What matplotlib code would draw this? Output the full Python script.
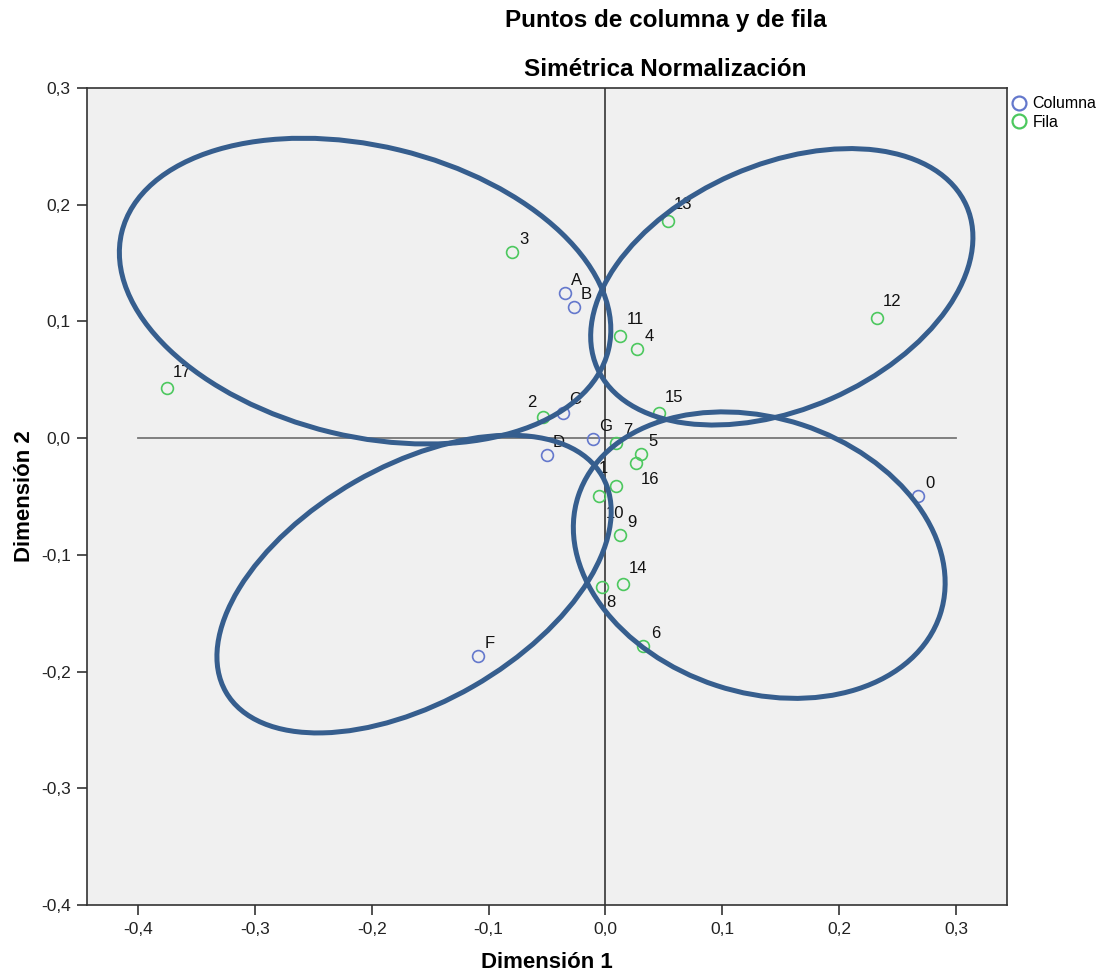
import matplotlib
matplotlib.use("Agg")
import matplotlib.pyplot as plt
from matplotlib.patches import Ellipse
from matplotlib.lines import Line2D
from matplotlib.ticker import FuncFormatter

plt.rcParams['font.family'] = ['Liberation Sans', 'DejaVu Sans']

# Column points (Dimensión 1, Dimensión 2)
col_labels = ['A', 'B', 'C', 'D', 'G', 'F', '0']
col_x = [-0.0346, -0.0266, -0.0360, -0.0502, -0.0104, -0.1093, 0.2672]
col_y = [0.1243, 0.1121, 0.0218, -0.0147, -0.0010, -0.1867, -0.0496]

# Row points
row_labels = ['3', '17', '13', '12', '11', '4', '2', '15', '7', '5',
              '16', '1', '10', '9', '14', '8', '6']
row_x = [-0.0799, -0.3754, 0.0538, 0.2322, 0.0128, 0.0270, -0.0531, 0.0461,
         0.0091, 0.0305, 0.0265, 0.0091, -0.0052, 0.0128, 0.0148, -0.0027,
         0.0324]
row_y = [0.1595, 0.0427, 0.1863, 0.1032, 0.0877, 0.0763, 0.0183, 0.0212,
         -0.0045, -0.0139, -0.0216, -0.0410, -0.0496, -0.0830, -0.1250,
         -0.1278, -0.1781]

# Highlighted groups: centre x, centre y, width, height, angle (deg)
grp_cx = [-0.2057, 0.1509, 0.1316, -0.1638]
grp_cy = [0.1260, 0.1297, -0.1002, -0.1250]
grp_w = [0.4285, 0.3452, 0.3259, 0.3714]
grp_h = [0.2488, 0.2096, 0.2351, 0.2024]
grp_ang = [-13.6, 23.7, -18.2, 29.9]

xticks = [-0.4, -0.3, -0.2, -0.1, 0.0, 0.1, 0.2, 0.3]
yticks = [-0.4, -0.3, -0.2, -0.1, 0.0, 0.1, 0.2, 0.3]

# label offsets in pixels (dx right, dy up); default upper right
label_offsets = {'2': (-12, 14), '8': (9, -15), '10': (16, -17),
                 '16': (14, -16), '1': (-13, 18)}

BLUE = '#6478cc'
GREEN = '#4cc85e'
ELL = '#365e8e'

fig = plt.figure(figsize=(11.04, 9.76), dpi=100)
ax = fig.add_axes([0.0791, 0.0727, 0.9119 - 0.0791, 0.9098 - 0.0727])
ax.set_facecolor('#f0f0f0')
ax.set_xlim(-0.4434, 0.3434)
ax.set_ylim(-0.4, 0.3)

# reference lines
ax.plot([-0.4, 0.3], [0, 0], color='#777777', lw=1.3, zorder=1)
ax.axvline(0, color='#444444', lw=1.3, zorder=1)

ax.plot(col_x, col_y, 'o', ms=8.5, mfc='none', mec=BLUE, mew=1.2, zorder=3)
ax.plot(row_x, row_y, 'o', ms=8.5, mfc='none', mec=GREEN, mew=1.2, zorder=3)


def put_labels(xs, ys, labels):
    for x, y, t in zip(xs, ys, labels):
        if t in label_offsets:
            dx, dy = label_offsets[t]
        elif len(t) > 1:
            dx, dy = 15, 16
        else:
            dx, dy = 12, 13
        ax.annotate(t, (x, y), xytext=(dx, dy), textcoords='offset pixels',
                    ha='center', va='center', fontsize=12, color='#111111',
                    zorder=4)


put_labels(col_x, col_y, col_labels)
put_labels(row_x, row_y, row_labels)

for cx, cy, w, h, a in zip(grp_cx, grp_cy, grp_w, grp_h, grp_ang):
    ax.add_patch(Ellipse((cx, cy), w, h, angle=a, fill=False,
                         edgecolor=ELL, lw=3.6, zorder=5))

fmt = FuncFormatter(lambda v, p: f"{v:.1f}".replace('.', ',').replace('-0,0', '0,0'))
ax.set_xticks(xticks)
ax.set_yticks(yticks)
ax.xaxis.set_major_formatter(fmt)
ax.yaxis.set_major_formatter(fmt)
ax.tick_params(direction='out', length=7, width=1.2, color='#333333',
               labelsize=12.5, labelcolor='#222222', pad=5)
for s in ax.spines.values():
    s.set_color('#333333')
    s.set_linewidth(1.2)

ax.set_xlabel('Dimensión 1', fontsize=16, fontweight='bold', labelpad=11)
ax.set_ylabel('Dimensión 2', fontsize=16, fontweight='bold', labelpad=4)

fig.text(0.603, 1 - 21 / 976, 'Puntos de columna y de fila', ha='center',
         va='center', fontsize=17.5, fontweight='bold')
fig.text(0.603, 1 - 69 / 976, 'Simétrica Normalización', ha='center',
         va='center', fontsize=17.5, fontweight='bold')

handles = [Line2D([], [], ls='none', marker='o', ms=10, mfc='none', mec=BLUE,
                  mew=1.6, label='Columna'),
           Line2D([], [], ls='none', marker='o', ms=10, mfc='none', mec=GREEN,
                  mew=1.6, label='Fila')]
fig.legend(handles=handles, loc='upper left', bbox_to_anchor=(0.904, 0.913),
           frameon=False, fontsize=11.5, handletextpad=0.25, labelspacing=0.25,
           borderpad=0.2, handlelength=1.2)

fig.savefig('out.png', dpi=100, facecolor='white')
